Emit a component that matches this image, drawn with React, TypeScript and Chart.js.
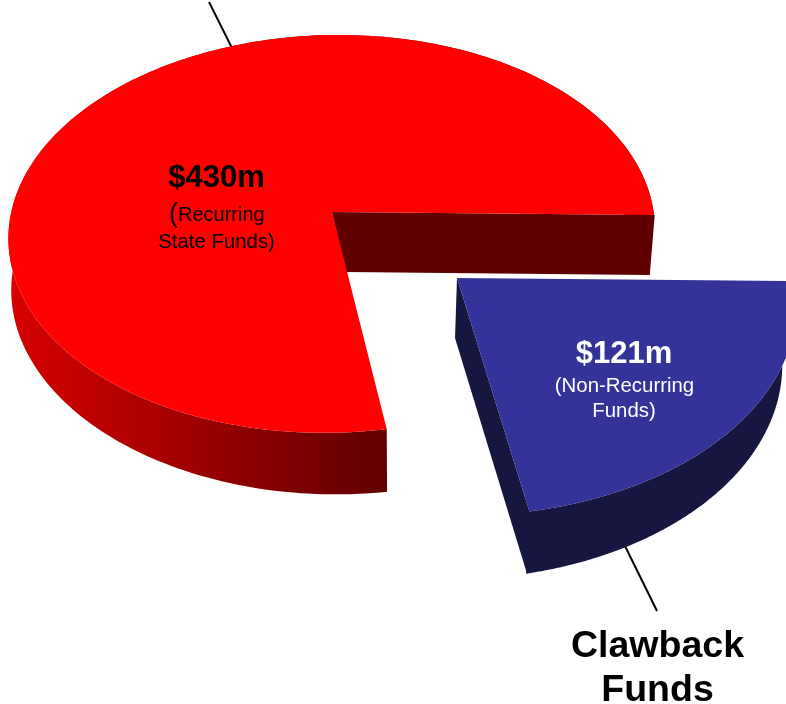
import React, { useEffect, useRef } from "react";
import { Chart } from "chart.js/auto";

const categories = ["Recurring State Funds", "Clawback Non-Recurring Funds"];
const values = [430, 121];
const topColors = ["#ff0000", "#333399"];
const sideColors = ["#600000", "#161640"];

const FONT = '"Liberation Sans", Arial, sans-serif';

// Perspective view of each slice's top and bottom disc (unit circle -> page).
type View = { x0: number; y0: number; a: number; s: number; b: number; t: number; k: number; m: number };
type SliceView = { top: View; bottom: View; innerBottom: [number, number]; startShift: number };
const VIEWS: SliceView[] = [
  {
    top: { x0: 332, y0: 212, a: 321, s: -12.4, b: 196.5, t: 3, k: 0.11, m: 0.003 },
    bottom: { x0: 331, y0: 272, a: 318, s: 0, b: 199, t: 3, k: 0.105, m: 0 },
    innerBottom: [345, 272],
    startShift: (1.85 * Math.PI) / 180,
  },
  {
    top: { x0: 457, y0: 278, a: 337, s: 0.6, b: 211.5, t: 3, k: 0.11, m: 0 },
    bottom: { x0: 455, y0: 338, a: 335, s: 1, b: 214.8, t: 3, k: 0.11, m: -0.03 },
    innerBottom: [455, 338],
    startShift: 0,
  },
];

function project(view: View, angle: number): [number, number] {
  const u = Math.cos(angle);
  const v = Math.sin(angle);
  const w = 1 - view.k * v - view.m * u;
  return [view.x0 + (view.a * u + view.s * v) / w, view.y0 + (view.b * v + view.t * u) / w];
}

function arcPoints(view: View, start: number, end: number): [number, number][] {
  const out: [number, number][] = [];
  const n = 240;
  for (let i = 0; i <= n; i++) out.push(project(view, start + ((end - start) * i) / n));
  return out;
}

function trace(ctx: CanvasRenderingContext2D, pts: [number, number][]) {
  ctx.beginPath();
  pts.forEach((p, i) => (i ? ctx.lineTo(p[0], p[1]) : ctx.moveTo(p[0], p[1])));
  ctx.closePath();
}

function text(ctx: CanvasRenderingContext2D, s: string, x: number, y: number, font: string, color: string, align: CanvasTextAlign = "center") {
  ctx.font = font;
  ctx.fillStyle = color;
  ctx.textAlign = align;
  ctx.textBaseline = "alphabetic";
  ctx.fillText(s, x, y);
}

function leader(ctx: CanvasRenderingContext2D, x1: number, y1: number, x2: number, y2: number) {
  ctx.beginPath();
  ctx.moveTo(x1, y1);
  ctx.lineTo(x2, y2);
  ctx.strokeStyle = "#000000";
  ctx.lineWidth = 2;
  ctx.stroke();
}

const pie3d = {
  id: "pie3d",
  beforeDatasetsDraw(chart: any) {
    const ctx: CanvasRenderingContext2D = chart.ctx;
    const arcs = chart.getDatasetMeta(0).data;
    ctx.save();
    leader(ctx, 209, 2, 232, 48);
    leader(ctx, 625, 546, 657, 611);

    arcs.forEach((arc: any, i: number) => {
      const { startAngle, endAngle, options } = arc;
      const view = VIEWS[i];
      const topArc = arcPoints(view.top, startAngle, endAngle);
      const bottomArc = arcPoints(view.bottom, startAngle + view.startShift, endAngle);

      // outer wall
      let wall: CanvasGradient | string = sideColors[i];
      if (i === 0) {
        const g = ctx.createLinearGradient(8, 0, 387, 0);
        g.addColorStop(0, "#d80000");
        g.addColorStop(1, sideColors[i]);
        wall = g;
      }
      ctx.fillStyle = wall;
      trace(ctx, [...topArc, ...bottomArc.slice().reverse()]);
      ctx.fill();

      // the cut face that looks at the viewer
      const topEdge = project(view.top, endAngle);
      const bottomEdge = project(view.bottom, endAngle);
      ctx.fillStyle = sideColors[i];
      trace(ctx, [[view.top.x0, view.top.y0], topEdge, bottomEdge, view.innerBottom]);
      ctx.fill();
      // close the seam between the wall and the cut face
      ctx.beginPath();
      ctx.moveTo(topEdge[0], topEdge[1]);
      ctx.lineTo(bottomEdge[0], bottomEdge[1]);
      ctx.strokeStyle = sideColors[i];
      ctx.lineWidth = 1.5;
      ctx.stroke();

      // top surface
      ctx.fillStyle = options.backgroundColor;
      trace(ctx, [[view.top.x0, view.top.y0], ...topArc]);
      ctx.fill();
    });

    const big = `bold 31px ${FONT}`;
    const small = `20.4px ${FONT}`;
    text(ctx, "$430m", 216.5, 187, big, "#000000");
    text(ctx, "(", 169, 222, `27px ${FONT}`, "#000000", "left");
    text(ctx, "Recurring", 178, 221, `20px ${FONT}`, "#000000", "left");
    text(ctx, "State Funds)", 216.5, 248, small, "#000000");
    text(ctx, "$121m", 624, 363, big, "#ffffff");
    text(ctx, "(Non-Recurring", 624.5, 392, small, "#ffffff");
    text(ctx, "Funds)", 624, 417, small, "#ffffff");
    const label = `bold 37.5px ${FONT}`;
    text(ctx, "Clawback", 657.5, 657, label, "#000000");
    text(ctx, "Funds", 657.5, 701, label, "#000000");
    ctx.restore();
    return false;
  },
};

export default function App() {
  const ref = useRef<HTMLCanvasElement>(null);
  useEffect(() => {
    const chart = new Chart(ref.current!, {
      type: "pie",
      data: {
        labels: categories,
        datasets: [{ data: values, backgroundColor: topColors, borderWidth: 0 }],
      },
      options: {
        responsive: false,
        animation: false,
        devicePixelRatio: 1,
        rotation: 90 + (360 * values[1]) / (values[0] + values[1]),
        plugins: { legend: { display: false }, tooltip: { enabled: false } },
      },
      plugins: [pie3d],
    } as any);
    return () => chart.destroy();
  }, []);
  return (
    <div style={{ position: "fixed", left: 0, top: 0, width: 786, height: 704, overflow: "hidden", background: "#ffffff" }}>
      <canvas ref={ref} width={786} height={704} style={{ display: "block" }} />
    </div>
  );
}
